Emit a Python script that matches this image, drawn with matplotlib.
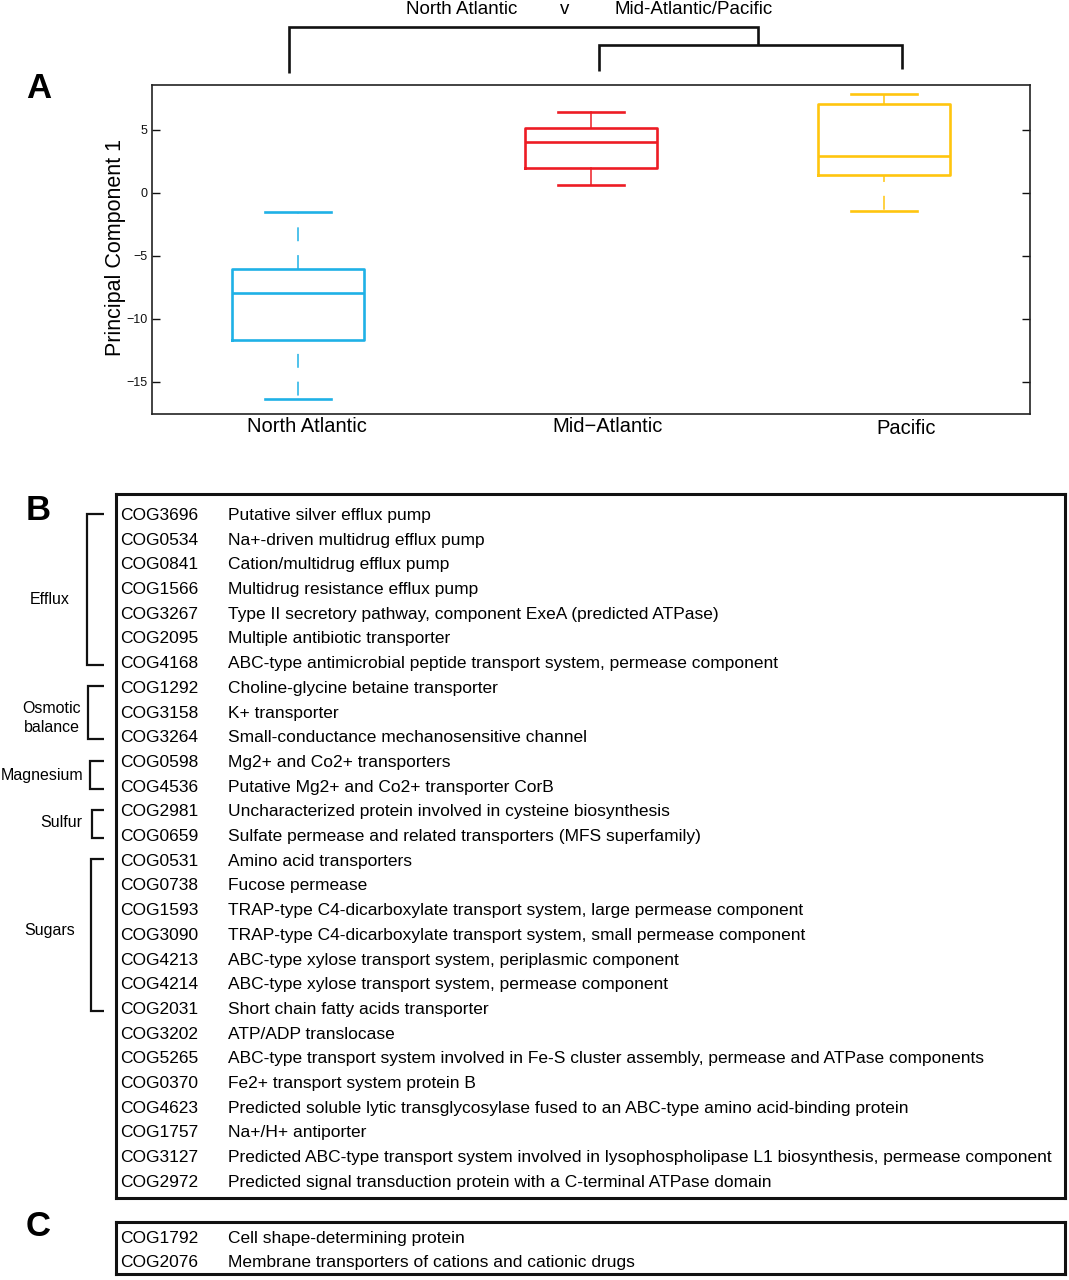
import matplotlib
matplotlib.use('Agg')
import matplotlib.pyplot as plt
from matplotlib.lines import Line2D
import matplotlib.transforms as mtransforms

plt.rcParams['font.family'] = ['Liberation Sans', 'DejaVu Sans']
plt.rcParams['lines.scale_dashes'] = False

W, H = 1069, 1280

# ---------------- Panel A data ----------------
regions = ['North Atlantic', 'Mid\u2212Atlantic', 'Pacific']
whisker_low = [-16.35, 0.63, -1.43]
q1 = [-11.67, 1.98, 1.43]
medians = [-7.94, 4.05, 2.94]
q3 = [-6.03, 5.16, 7.06]
whisker_high = [-1.5, 6.43, 7.86]
box_colors = ['#1FB1E6', '#ED1C24', '#FFC50F']
y_ticks = [-15, -10, -5, 0, 5]
comparison = ['North Atlantic', 'v', 'Mid-Atlantic/Pacific']

# ---------------- Panel B data ----------------
cog_ids = ['COG3696', 'COG0534', 'COG0841', 'COG1566', 'COG3267', 'COG2095',
           'COG4168', 'COG1292', 'COG3158', 'COG3264', 'COG0598', 'COG4536',
           'COG2981', 'COG0659', 'COG0531', 'COG0738', 'COG1593', 'COG3090',
           'COG4213', 'COG4214', 'COG2031', 'COG3202', 'COG5265', 'COG0370',
           'COG4623', 'COG1757', 'COG3127', 'COG2972']
descriptions = [
    'Putative silver efflux pump',
    'Na+-driven multidrug efflux pump',
    'Cation/multidrug efflux pump',
    'Multidrug resistance efflux pump',
    'Type II secretory pathway, component ExeA (predicted ATPase)',
    'Multiple antibiotic transporter',
    'ABC-type antimicrobial peptide transport system, permease component',
    'Choline-glycine betaine transporter',
    'K+ transporter',
    'Small-conductance mechanosensitive channel',
    'Mg2+ and Co2+ transporters',
    'Putative Mg2+ and Co2+ transporter CorB',
    'Uncharacterized protein involved in cysteine biosynthesis',
    'Sulfate permease and related transporters (MFS superfamily)',
    'Amino acid transporters',
    'Fucose permease',
    'TRAP-type C4-dicarboxylate transport system, large permease component',
    'TRAP-type C4-dicarboxylate transport system, small permease component',
    'ABC-type xylose transport system, periplasmic component',
    'ABC-type xylose transport system, permease component',
    'Short chain fatty acids transporter',
    'ATP/ADP translocase',
    'ABC-type transport system involved in Fe-S cluster assembly, permease and ATPase components',
    'Fe2+ transport system protein B',
    'Predicted soluble lytic transglycosylase fused to an ABC-type amino acid-binding protein',
    'Na+/H+ antiporter',
    'Predicted ABC-type transport system involved in lysophospholipase L1 biosynthesis, permease component',
    'Predicted signal transduction protein with a C-terminal ATPase domain',
]
group_names = ['Efflux', 'Osmotic\nbalance', 'Magnesium', 'Sulfur', 'Sugars']
group_first = [0, 7, 10, 12, 14]
group_last = [6, 9, 11, 13, 20]

# ---------------- Panel C data ----------------
c_ids = ['COG1792', 'COG2076']
c_descriptions = ['Cell shape-determining protein',
                  'Membrane transporters of cations and cationic drugs']


def fx(x):
    return x / W


def fy(y):
    return 1 - y / H


def ax_rect(l, t, r, b):
    return [fx(l), fy(b), (r - l) / W, (b - t) / H]


fig = plt.figure(figsize=(W / 100, H / 100), dpi=100)

# ================= Panel A =================
axA = fig.add_axes(ax_rect(152, 85, 1030, 414))
stats = []
for i in range(len(regions)):
    stats.append(dict(label=regions[i], whislo=whisker_low[i], q1=q1[i],
                      med=medians[i], q3=q3[i], whishi=whisker_high[i],
                      fliers=[]))
bp = axA.bxp(stats, positions=[1, 2, 3], widths=0.45, showfliers=False)

dash_offsets = [(10, 0), (None, None), (5, 0)]
for i, c in enumerate(box_colors):
    bp['boxes'][i].set(color=c, linewidth=1.9)
    bp['medians'][i].set(color=c, linewidth=1.9)
    for k in range(2):
        bp['caps'][2 * i + k].set(color=c, linewidth=1.9)
        w = bp['whiskers'][2 * i + k]
        w.set(color=c, linewidth=1.1)
        off = dash_offsets[i][k]
        if off is not None:
            w.set_linestyle((off, (10, 10)))

axA.set_xlim(0.5, 3.5)
axA.set_ylim(-17.54, 8.57)
axA.set_yticks(y_ticks)
axA.tick_params(axis='y', direction='in', left=True, right=True, length=6,
                width=1, labelsize=9, pad=3, colors='#111111')
axA.tick_params(axis='x', length=0, labelsize=14.5, pad=2)
for sp in axA.spines.values():
    sp.set_linewidth(1.2)
    sp.set_color('#222222')

label_shift = [(9, 0), (17, 0), (22, -2)]
for lab, (dx, dy) in zip(axA.get_xticklabels(), label_shift):
    lab.set_transform(lab.get_transform() +
                      mtransforms.ScaledTranslation(dx / 100, dy / 100,
                                                    fig.dpi_scale_trans))

fig.text(fx(116), fy(248), 'Principal Component 1', rotation=90,
         ha='center', va='center', fontsize=15.5)

# Top comparison bracket
fig.text(fx(462), fy(10), comparison[0], ha='center', va='center', fontsize=13.5)
fig.text(fx(565), fy(10), comparison[1], ha='center', va='center', fontsize=13.5)
fig.text(fx(694), fy(10), comparison[2], ha='center', va='center', fontsize=13.5)


def fig_line(xs, ys, lw=1.9):
    fig.add_artist(Line2D([fx(x) for x in xs], [fy(y) for y in ys],
                          transform=fig.transFigure, color='#111111',
                          linewidth=lw, solid_capstyle='butt',
                          solid_joinstyle='miter'))


fig_line([289, 289, 758, 758], [73, 27, 27, 45])
fig_line([599, 599, 902, 902], [71, 45, 45, 69])

# Panel letters
fig.text(fx(39), fy(88), 'A', ha='center', va='center', fontsize=25,
         fontweight='bold')
fig.text(fx(38), fy(510), 'B', ha='center', va='center', fontsize=25,
         fontweight='bold')
fig.text(fx(38), fy(1227), 'C', ha='center', va='center', fontsize=25,
         fontweight='bold')

# ================= Panel B =================
row_top_px, row_step_px = 514, 24.7
box_top, box_bot = 494, 1198
axB = fig.add_axes(ax_rect(116, box_top, 1065, box_bot))
axB.set_xlim(116, 1065)
axB.set_ylim((box_bot - row_top_px) / row_step_px,
             (box_top - row_top_px) / row_step_px)
axB.set_xticks([])
axB.set_yticks([])
for sp in axB.spines.values():
    sp.set_linewidth(2.2)
    sp.set_color('#111111')
for i, (cid, desc) in enumerate(zip(cog_ids, descriptions)):
    axB.text(120, i + 0.06, cid, ha='left', va='center', fontsize=12.5)
    axB.text(228, i + 0.06, desc, ha='left', va='center', fontsize=12.5)

label_x = [50, 52, 42, 61, 50]
label_dy = [0.48, 0.25, 0.07, 0.0, -0.12]
bracket_x = [87, 88, 90, 92, 91]
for name, a, b, lx, ldy, bx in zip(group_names, group_first, group_last,
                                   label_x, label_dy, bracket_x):
    axB.add_line(Line2D([104, bx, bx, 104], [a - 0.02, a - 0.02, b + 0.12, b + 0.12],
                        color='#111111', linewidth=1.6, clip_on=False,
                        solid_joinstyle='miter', solid_capstyle='butt'))
    axB.text(lx, (a + b) / 2 + ldy, name, ha='center', va='center',
             fontsize=11.5, clip_on=False, linespacing=1.35)

# ================= Panel C =================
c_top, c_bot, c_row0, c_step = 1222, 1274, 1237, 24
axC = fig.add_axes(ax_rect(116, c_top, 1065, c_bot))
axC.set_xlim(116, 1065)
axC.set_ylim((c_bot - c_row0) / c_step, (c_top - c_row0) / c_step)
axC.set_xticks([])
axC.set_yticks([])
for sp in axC.spines.values():
    sp.set_linewidth(2.2)
    sp.set_color('#111111')
for i, (cid, desc) in enumerate(zip(c_ids, c_descriptions)):
    axC.text(120, i + 0.06, cid, ha='left', va='center', fontsize=12.5)
    axC.text(228, i + 0.06, desc, ha='left', va='center', fontsize=12.5)

fig.savefig('out.png', dpi=100)
